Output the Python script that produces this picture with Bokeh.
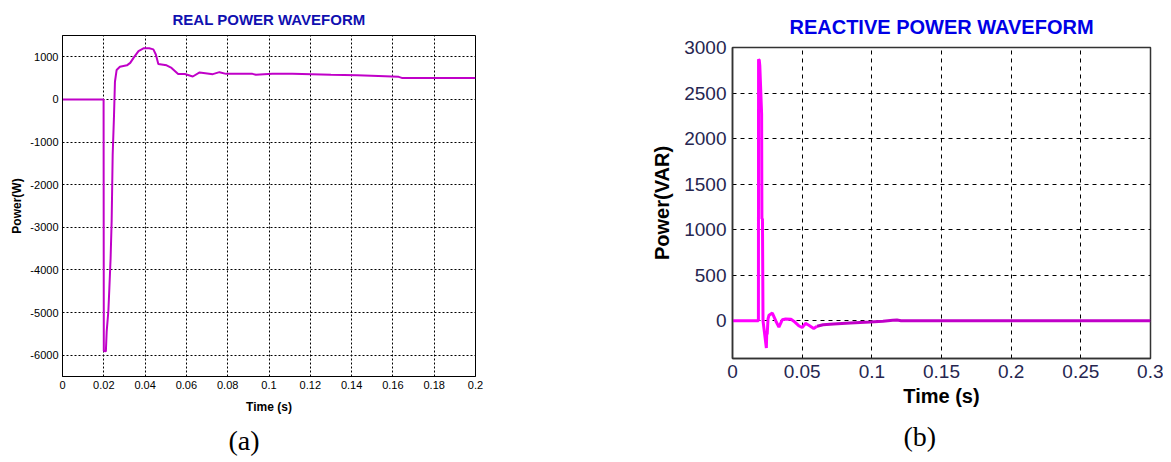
from bokeh.plotting import figure
from bokeh.models import FixedTicker, Title, Range1d
from bokeh.layouts import row, column
from bokeh.embed import file_html
from bokeh.resources import INLINE

# ---------------- data ----------------
# (a) real power waveform
real_t = [0, 0.0199, 0.0200, 0.0210, 0.0214, 0.0222, 0.0227, 0.0233, 0.0238, 0.0243,
          0.0249, 0.0254, 0.0262, 0.0278, 0.0312, 0.0328, 0.0344, 0.0368, 0.0392, 0.0420,
          0.0440, 0.0452, 0.0464, 0.0504, 0.0528, 0.0560, 0.0592, 0.0631, 0.0664, 0.0728,
          0.0760, 0.0792, 0.0920, 0.0936, 0.1016, 0.1113, 0.1300, 0.1426, 0.1530, 0.1628,
          0.1643, 0.2000]
real_p = [0, 0, -5900, -5910, -5440, -4970, -4420, -3720, -2860, -1300,
          -445, 415, 690, 765, 800, 857, 975, 1135, 1200, 1200,
          1175, 1055, 833, 800, 738, 595, 595, 538, 633, 593,
          640, 600, 600, 580, 600, 600, 580, 570, 550, 530,
          505, 505]

# (b) reactive power waveform
react_t = [0, 0.0186, 0.0187, 0.0192, 0.0196, 0.0209, 0.0211, 0.0215, 0.0219, 0.0243,
           0.0246, 0.0249, 0.0255, 0.0262, 0.0286, 0.0310, 0.0333, 0.0357, 0.0381, 0.0420,
           0.0440, 0.0475, 0.0500, 0.0524, 0.0548, 0.0583, 0.0607, 0.0650, 0.0726, 0.0845,
           0.0988, 0.1080, 0.1150, 0.1180, 0.1210, 0.3000]
react_q = [0, 0, 2870, 2860, 2800, 2270, 1120, 1120, 0, -300,
           -120, -150, 20, 60, 84, 0, -70, 10, 18, 15,
           -5, -55, -75, -30, -50, -85, -60, -45, -35, -25,
           -15, -5, 5, 8, 0, 0]
react_split_t = 0.0607   # colour changes from magenta to purple here

real_x_labels = ["0", "0.02", "0.04", "0.06", "0.08", "0.1", "0.12", "0.14", "0.16", "0.18", "0.2"]
real_y_labels = ["-6000", "-5000", "-4000", "-3000", "-2000", "-1000", "0", "1000"]
react_x_labels = ["0", "0.05", "0.1", "0.15", "0.2", "0.25", "0.3"]
react_y_labels = ["0", "500", "1000", "1500", "2000", "2500", "3000"]
captions = ["(a)", "(b)"]

FONT = "Liberation Sans"


def set_ticks(axis, labels):
    ticks = [float(s) for s in labels]
    axis.ticker = FixedTicker(ticks=ticks)
    axis.major_label_overrides = {float(s): s for s in labels}


# ---------------- (a) ----------------
pa = figure(width=640, height=462, output_backend="svg", toolbar_location=None,
            x_range=Range1d(0, 0.2), y_range=Range1d(-6500, 1500),
            min_border_left=62, min_border_right=165, min_border_top=35, min_border_bottom=86)
pa.title.text = "REAL POWER WAVEFORM"
pa.title.align = "center"
pa.title.text_font = FONT
pa.title.text_font_size = "15px"
pa.title.text_font_style = "bold"
pa.title.text_color = "#1010b0"
pa.title.standoff = 15

set_ticks(pa.xaxis[0], real_x_labels)
set_ticks(pa.yaxis[0], real_y_labels)
for ax in (pa.xaxis[0], pa.yaxis[0]):
    ax.major_tick_in = 0
    ax.major_tick_out = 0
    ax.minor_tick_in = 0
    ax.minor_tick_out = 0
    ax.major_label_text_font = FONT
    ax.major_label_text_font_size = "11px"
    ax.major_label_text_color = "black"
    ax.axis_label_text_font = FONT
    ax.axis_label_text_font_size = "12px"
    ax.axis_label_text_font_style = "bold"
    ax.axis_label_text_color = "black"
    ax.axis_line_color = "black"
pa.xaxis.axis_label = "Time (s)"
pa.yaxis.axis_label = "Power(W)"
pa.xaxis.major_label_standoff = 4
pa.xaxis.axis_label_standoff = 8
pa.yaxis.major_label_standoff = 4
pa.yaxis.axis_label_standoff = 3
pa.outline_line_color = "black"
pa.outline_line_width = 1
pa.outline_line_alpha = 1
for g in (pa.xgrid[0], pa.ygrid[0]):
    g.grid_line_color = "black"
    g.grid_line_dash = "2 2"
    g.grid_line_width = 1
    g.grid_line_alpha = 1

pa.line(real_t, real_p, line_color="#c000c8", line_width=2)

pa.add_layout(Title(text=captions[0], align="left", offset=166, text_font="Liberation Serif",
                    text_font_size="28px", text_font_style="normal", text_color="black",
                    standoff=12), "below")

# ---------------- (b) ----------------
pb = figure(width=523, height=462, output_backend="svg", toolbar_location=None,
            x_range=Range1d(0, 0.3), y_range=Range1d(-415, 3000),
            min_border_left=92, min_border_right=13, min_border_top=47, min_border_bottom=104)
pb.title.text = "REACTIVE POWER WAVEFORM"
pb.title.align = "center"
pb.title.text_font = FONT
pb.title.text_font_size = "20px"
pb.title.text_font_style = "bold"
pb.title.text_color = "#0000e6"
pb.title.standoff = 20

set_ticks(pb.xaxis[0], react_x_labels)
set_ticks(pb.yaxis[0], react_y_labels)
for ax in (pb.xaxis[0], pb.yaxis[0]):
    ax.major_tick_in = 0
    ax.major_tick_out = 0
    ax.minor_tick_in = 0
    ax.minor_tick_out = 0
    ax.major_label_text_font = FONT
    ax.major_label_text_font_size = "19px"
    ax.major_label_text_color = "#262650"
    ax.axis_label_text_font = FONT
    ax.axis_label_text_font_size = "20px"
    ax.axis_label_text_font_style = "bold"
    ax.axis_label_text_color = "black"
    ax.axis_line_color = "#333333"
    ax.axis_line_width = 1.5
pb.xaxis.axis_label = "Time (s)"
pb.yaxis.axis_label = "Power(VAR)"
pb.xaxis.major_label_standoff = 6
pb.xaxis.axis_label_standoff = 4
pb.yaxis.major_label_standoff = 6
pb.yaxis.axis_label_standoff = 8
pb.outline_line_color = "#333333"
pb.outline_line_width = 1.5
pb.outline_line_alpha = 1
for g in (pb.xgrid[0], pb.ygrid[0]):
    g.grid_line_color = "black"
    g.grid_line_dash = "4 4"
    g.grid_line_width = 1
    g.grid_line_alpha = 1

early_t = [t for t in react_t if t <= react_split_t]
early_q = [q for t, q in zip(react_t, react_q) if t <= react_split_t]
late_t = [t for t in react_t if t >= react_split_t]
late_q = [q for t, q in zip(react_t, react_q) if t >= react_split_t]
pb.line(early_t, early_q, line_color="#ff00ff", line_width=3)
pb.line(late_t, late_q, line_color="#c000c8", line_width=3)

pb.add_layout(Title(text=captions[1], align="left", offset=171, text_font="Liberation Serif",
                    text_font_size="28px", text_font_style="normal", text_color="black",
                    standoff=18), "below")

layout = row(column(pa), column(pb))
open("out.html", "w").write(file_html(layout, INLINE))
